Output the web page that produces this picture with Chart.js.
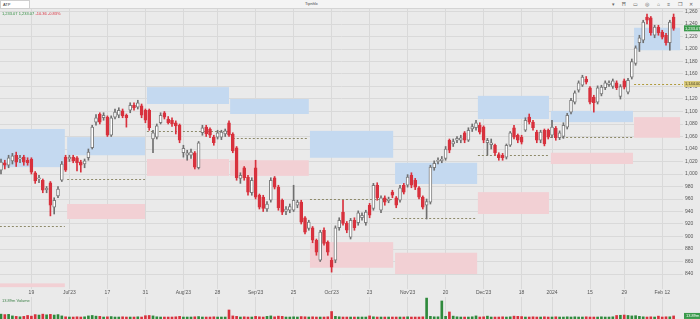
<!DOCTYPE html>
<html>
<head>
<meta charset="utf-8">
<script src="https://cdn.jsdelivr.net/npm/chart.js@4.4.1/dist/chart.umd.min.js"></script>
<style>
  body { margin: 0; width: 700px; height: 319px; overflow: hidden; background: #eaeaea;
         font-family: "Liberation Sans", Arial, sans-serif; position: relative; }
  #top { position: absolute; left: 0; top: 0; width: 700px; height: 8px; background: #f4f4f4;
         border-bottom: 1px solid #d4d4d4; z-index: 3; }
  #sym { position: absolute; left: 0; top: 0; width: 26px; height: 7px; background: #fff;
         border: 1px solid #cfcfcf; font-size: 4px; line-height: 7px; padding-left: 2px; color: #333; }
  #title { position: absolute; left: 305px; top: 1px; font-size: 4px; color: #444; }
  #icons { position: absolute; right: 4px; top: 0; font-size: 5px; line-height: 8px; color: #666; letter-spacing: 3px; }
  #quote { position: absolute; left: 2px; top: 11px; font-size: 4px; z-index: 3; }
  #quote .g { color: #2e8b3e; } #quote .r { color: #d9303e; }
  #volLbl { position: absolute; left: 2px; top: 298px; font-size: 4px; color: #3b7f46; z-index: 3; }
  #priceWrap { position: absolute; left: 0; top: 0; width: 700px; height: 297px; }
  #volWrap { position: absolute; left: 0; top: 297px; width: 700px; height: 22px; }
</style>
</head>
<body>
<div id="top">
  <div id="sym">ATP</div>
  <div id="title">Tipnhlx</div>
  <div id="icons">▾ Ħ ▭ ◎ ⌂ ≡ ❐ ✕</div>
</div>
<div id="quote"><span class="g">1,233.07 1,233.07</span> <span class="r">-10.36 -0.83%</span></div>
<div id="priceWrap"><canvas id="price"></canvas></div>
<div id="volWrap"><canvas id="vol"></canvas></div>
<div id="volLbl">13.89m Volume</div>
<script>
// daily candles, index 0 = first session on the chart
const opens = [
  1006,1018,1014,1021,1030,1024,1027,1022,1024,1002,
  992,990,975,986,947,965,990,1027,1024,1027,
  1026,1019,1016,1026,1042,1083,1096,1090,1091,1062,
  1091,1094,1101,1094,1102,1110,1107,1109,1102,1102,
  1056,1059,1082,1098,1088,1086,1082,1078,1034,1030,
  1030,1034,1010,1066,1075,1072,1059,1059,1059,1064,
  1082,1064,1042,993,1010,995,970,1010,966,963,
  944,958,994,979,958,940,942,942,950,955,
  930,913,914,894,862,910,891,862,862,914,
  939,921,899,926,922,930,922,950,945,982,
  942,962,957,971,962,958,982,982,998,990,
  978,963,950,955,1010,1020,1021,1025,1054,1048,
  1054,1054,1066,1054,1072,1074,1078,1075,1050,1047,
  1046,1031,1030,1027,1046,1074,1062,1059,1070,1091,
  1083,1067,1054,1070,1070,1062,1073,1058,1060,1075,
  1099,1115,1134,1142,1152,1138,1123,1115,1128,1138,
  1143,1140,1146,1124,1149,1131,1155,1177,1210,1214,
  1251,1250,1222,1235,1227,1222,1210,1251
];
const highs = [
  1024,1022,1030,1033,1035,1030,1030,1026,1026,1004,
  998,992,980,988,962,980,1020,1030,1030,1030,
  1028,1022,1024,1040,1078,1095,1098,1098,1093,1093,
  1104,1106,1104,1096,1114,1114,1118,1112,1104,1104,
  1070,1080,1098,1100,1092,1090,1085,1080,1046,1038,
  1040,1036,1052,1078,1078,1074,1062,1070,1070,1072,
  1085,1066,1044,1002,1012,998,994,1022,968,966,
  956,994,996,982,960,948,952,982,958,958,
  932,926,916,896,910,914,893,866,917,930,
  958,924,929,930,941,938,942,953,985,986,
  965,965,963,974,964,982,985,999,1002,993,
  980,965,960,1014,1021,1026,1028,1044,1056,1056,
  1060,1062,1068,1074,1080,1086,1082,1077,1057,1056,
  1048,1034,1033,1048,1068,1078,1064,1062,1090,1096,
  1086,1070,1070,1072,1072,1086,1076,1069,1082,1097,
  1121,1133,1149,1158,1156,1140,1126,1141,1142,1149,
  1149,1152,1149,1143,1152,1153,1184,1205,1222,1246,
  1256,1252,1238,1238,1230,1225,1246,1256
];
const lows = [
  1000,1008,1010,1016,1012,1018,1014,1014,1000,985,
  986,970,970,933,936,962,988,1004,1020,1018,
  1005,1003,1010,1022,1040,1078,1080,1086,1060,1060,
  1088,1090,1090,1075,1098,1102,1104,1090,1082,1070,
  1034,1056,1080,1088,1080,1076,1064,1050,1027,1022,
  1025,1008,1008,1062,1060,1058,1046,1056,1055,1060,
  1060,1034,990,985,990,966,966,960,944,940,
  940,955,976,942,935,935,938,940,946,920,
  904,910,890,870,860,886,870,843,858,910,
  918,906,896,910,918,926,918,930,942,958,
  938,950,954,962,946,955,968,979,978,975,
  960,944,928,952,1006,1016,1018,1022,1034,1044,
  1050,1050,1050,1052,1068,1070,1064,1050,1030,1040,
  1030,1022,1022,1024,1044,1056,1050,1048,1068,1080,
  1070,1050,1050,1045,1056,1058,1054,1055,1057,1072,
  1096,1112,1131,1140,1144,1112,1099,1112,1125,1135,
  1140,1137,1135,1120,1136,1128,1152,1174,1196,1210,
  1240,1222,1218,1222,1216,1206,1198,1230
];
const closes = [
  1019,1014,1026,1029,1019,1026,1019,1018,1003,989,
  994,974,977,950,958,976,1016,1006,1027,1021,
  1018,1014,1021,1035,1075,1090,1083,1094,1062,1090,
  1099,1102,1093,1090,1110,1106,1114,1094,1086,1074,
  1066,1077,1094,1091,1082,1080,1077,1054,1041,1034,
  1035,1011,1050,1074,1064,1062,1050,1066,1067,1069,
  1062,1037,994,998,994,971,990,963,947,945,
  952,990,979,946,939,944,948,958,955,923,
  907,923,894,875,907,889,875,851,914,926,
  921,910,926,914,938,934,939,934,982,962,
  962,955,960,966,950,978,971,995,982,979,
  963,947,956,1011,1017,1022,1024,1040,1038,1052,
  1057,1058,1054,1070,1076,1082,1067,1054,1054,1050,
  1034,1026,1026,1046,1066,1059,1054,1051,1086,1083,
  1074,1054,1067,1048,1059,1075,1058,1066,1078,1094,
  1118,1130,1146,1155,1147,1115,1114,1138,1139,1146,
  1146,1149,1138,1140,1139,1150,1180,1202,1218,1243,
  1246,1226,1235,1226,1219,1210,1243,1233.07
];
// volume in millions
const volumes = [
  22,20,21,14,12,10,12,16,13,20,
  18,22,19,21,18,20,14,10,9,9,
  10,9,10,14,16,13,12,9,10,11,
  9,9,10,9,9,9,10,9,15,16,
  14,10,9,9,9,9,10,12,9,9,
  9,10,11,9,9,9,10,9,9,9,
  41,14,12,9,10,9,9,12,10,9,
  12,14,10,13,12,9,9,10,9,11,
  10,9,10,9,9,9,10,34,12,10,
  9,9,9,9,9,9,9,14,10,9,
  9,9,9,9,9,9,9,10,9,9,
  9,10,95,12,10,10,82,12,32,13,
  10,9,9,9,10,14,9,10,13,9,
  9,9,10,9,10,13,12,11,9,9,
  10,9,9,10,9,9,10,9,9,10,
  9,10,9,9,10,9,9,9,10,9,
  9,10,16,17,18,16,14,15,12,10,
  9,10,9,13,9,10,10,13.89
];

// x axis ticks (candle index -> label)
const xTickIdx = [8, 18, 28, 38, 48, 57, 67, 77, 87, 97, 107, 117, 127, 137, 145, 155, 164, 174];
const xTickLabels = ["19", "Jul'23", "17", "31", "Aug'23", "28", "Sep'23", "25", "Oct'23", "23",
                     "Nov'23", "20", "Dec'23", "18", "2024", "15", "29", "Feb 12"];
const yTicks = [840, 860, 880, 900, 920, 940, 960, 980, 1000, 1020, 1040, 1060, 1080, 1100,
                1120, 1140, 1160, 1180, 1200, 1220, 1240, 1260];

// monthly zones: [fromIdx, toIdx, low, high]
const blueZones = [
  [-0.3, 16.8, 1011, 1072],
  [17.4, 37.9, 1030, 1059],
  [38.4, 60.0, 1112, 1139],
  [60.3, 81.0, 1096, 1120],
  [81.3, 103.2, 1026, 1069],
  [103.7, 125.3, 984, 1018],
  [125.5, 144.2, 1088, 1125],
  [144.7, 166.3, 1083, 1101],
  [166.6, 178.7, 1198, 1234]
];
const redZones = [
  [-0.3, 16.8, 819, 825],
  [17.4, 37.9, 928, 952],
  [38.4, 60.0, 997, 1024],
  [60.3, 81.0, 997, 1022],
  [81.3, 103.2, 850, 891],
  [103.7, 125.3, 840, 874],
  [125.5, 144.2, 936, 971],
  [144.7, 166.3, 1016, 1034],
  [166.6, 178.7, 1058, 1091]
];
// dotted pivot lines: [fromIdx, toIdx, price]
const pivotLines = [
  [-0.3, 16.8, 917],
  [17.4, 37.9, 992],
  [38.4, 60.0, 1069],
  [61.0, 81.0, 1058],
  [81.3, 103.2, 960],
  [103.2, 125.3, 930],
  [125.5, 144.2, 1030],
  [144.5, 166.3, 1059],
  [166.6, 179.5, 1144]
];

const X_MIN = -0.263, X_MAX = 179.47;
const UP = '#ffffff', UP_LINE = '#7d7d7d', DOWN = '#d8313d';
const isUp = i => closes[i] >= opens[i];

const zonesPlugin = {
  id: 'zones',
  beforeDatasetsDraw(chart) {
    const { ctx, chartArea: a, scales: { x, y } } = chart;
    ctx.save();
    ctx.beginPath();
    ctx.rect(a.left, a.top, a.width, a.height);
    ctx.clip();
    const box = (z, col) => {
      const x1 = x.getPixelForValue(z[0]), x2 = x.getPixelForValue(z[1]);
      const y1 = y.getPixelForValue(z[3]), y2 = y.getPixelForValue(z[2]);
      ctx.fillStyle = col;
      ctx.fillRect(x1, y1, x2 - x1, y2 - y1);
    };
    blueZones.forEach(z => box(z, '#c4d9f0'));
    redZones.forEach(z => box(z, '#f2d0d4'));
    ctx.setLineDash([2, 2]);
    ctx.lineWidth = 1;
    pivotLines.forEach((p, k) => {
      const py = Math.round(y.getPixelForValue(p[2])) + 0.5;
      ctx.strokeStyle = k === pivotLines.length - 1 ? '#b09a3c' : '#8e8a6a';
      ctx.beginPath();
      ctx.moveTo(x.getPixelForValue(p[0]), py);
      ctx.lineTo(x.getPixelForValue(p[1]), py);
      ctx.stroke();
    });
    ctx.restore();
  },
  afterDraw(chart) {
    const { ctx, chartArea: a, scales: { y } } = chart;
    const badge = (val, bg, fg) => {
      const py = y.getPixelForValue(val);
      ctx.fillStyle = bg;
      ctx.fillRect(a.right + 1, py - 3, 16, 6);
      ctx.fillStyle = fg;
      ctx.font = '4px "Liberation Sans", Arial';
      ctx.textBaseline = 'middle';
      ctx.fillText(val.toLocaleString('en-US', { minimumFractionDigits: 2 }), a.right + 2, py + 0.3);
    };
    badge(closes[closes.length - 1], '#3a9a4b', '#ffffff');
    badge(pivotLines[pivotLines.length - 1][2], '#d8c97a', '#4a4220');
  }
};

const tickFont = { family: '"Liberation Sans", Arial, sans-serif', size: 5 };

new Chart(document.getElementById('price'), {
  type: 'bar',
  data: {
    datasets: [
      {
        label: 'wicks',
        data: closes.map((c, i) => ({ x: i, y: [lows[i], highs[i]] })),
        backgroundColor: closes.map((c, i) => isUp(i) ? '#6f6f6f' : DOWN),
        barThickness: 1,
        grouped: false,
        order: 2
      },
      {
        label: 'bodies',
        data: closes.map((c, i) => ({ x: i, y: [opens[i], c] })),
        backgroundColor: closes.map((c, i) => isUp(i) ? UP : DOWN),
        borderColor: closes.map((c, i) => isUp(i) ? UP_LINE : DOWN),
        borderWidth: 1,
        borderSkipped: false,
        barThickness: 3,
        minBarLength: 1,
        grouped: false,
        order: 1
      }
    ]
  },
  options: {
    responsive: true,
    maintainAspectRatio: false,
    animation: false,
    layout: { padding: { top: 9, left: 0, right: 0, bottom: 0 } },
    plugins: { legend: { display: false }, tooltip: { enabled: false } },
    scales: {
      x: {
        type: 'linear',
        offset: false,
        min: X_MIN,
        max: X_MAX,
        afterBuildTicks: s => { s.ticks = xTickIdx.map(v => ({ value: v })); },
        afterFit: s => { s.height = 8; s.paddingLeft = 0; s.paddingRight = 0; },
        ticks: {
          autoSkip: false, maxRotation: 0, padding: 1, color: '#555', font: tickFont,
          callback: v => xTickLabels[xTickIdx.indexOf(v)]
        },
        grid: { color: '#d9d9d9', drawTicks: false, offset: false },
        border: { display: false }
      },
      y: {
        position: 'right',
        min: 816,
        max: 1264,
        afterBuildTicks: s => { s.ticks = yTicks.map(v => ({ value: v })); },
        afterFit: s => { s.width = 17; },
        ticks: { padding: 2, color: '#555', font: tickFont, callback: v => v.toLocaleString('en-US') },
        grid: { color: '#d9d9d9', drawTicks: false },
        border: { display: false }
      }
    }
  },
  plugins: [zonesPlugin]
});

new Chart(document.getElementById('vol'), {
  type: 'bar',
  data: {
    datasets: [{
      data: volumes.map((v, i) => ({ x: i, y: v })),
      backgroundColor: volumes.map((v, i) => isUp(i) ? '#2f8a3c' : DOWN),
      barThickness: 2
    }]
  },
  options: {
    responsive: true,
    maintainAspectRatio: false,
    animation: false,
    layout: { padding: 0 },
    plugins: { legend: { display: false }, tooltip: { enabled: false } },
    scales: {
      x: {
        type: 'linear', offset: false, min: X_MIN, max: X_MAX,
        afterBuildTicks: s => { s.ticks = xTickIdx.map(v => ({ value: v })); },
        afterFit: s => { s.height = 0; s.paddingLeft = 0; s.paddingRight = 0; },
        ticks: { display: false },
        grid: { color: '#d9d9d9', drawTicks: false, offset: false },
        border: { display: false }
      },
      y: {
        position: 'right', min: 0, max: 100,
        afterFit: s => { s.width = 17; },
        ticks: { display: false },
        grid: { display: false },
        border: { display: false }
      }
    }
  },
  plugins: [{
    id: 'volBadge',
    afterDraw(chart) {
      const { ctx, chartArea: a, scales: { y } } = chart;
      const v = volumes[volumes.length - 1];
      const py = Math.min(y.getPixelForValue(v), a.bottom - 3);
      ctx.fillStyle = '#3a9a4b';
      ctx.fillRect(a.right + 1, py - 3, 16, 6);
      ctx.fillStyle = '#fff';
      ctx.font = '4px "Liberation Sans", Arial';
      ctx.textBaseline = 'middle';
      ctx.fillText(v + 'm', a.right + 3, py + 0.3);
    }
  }]
});
</script>
</body>
</html>
